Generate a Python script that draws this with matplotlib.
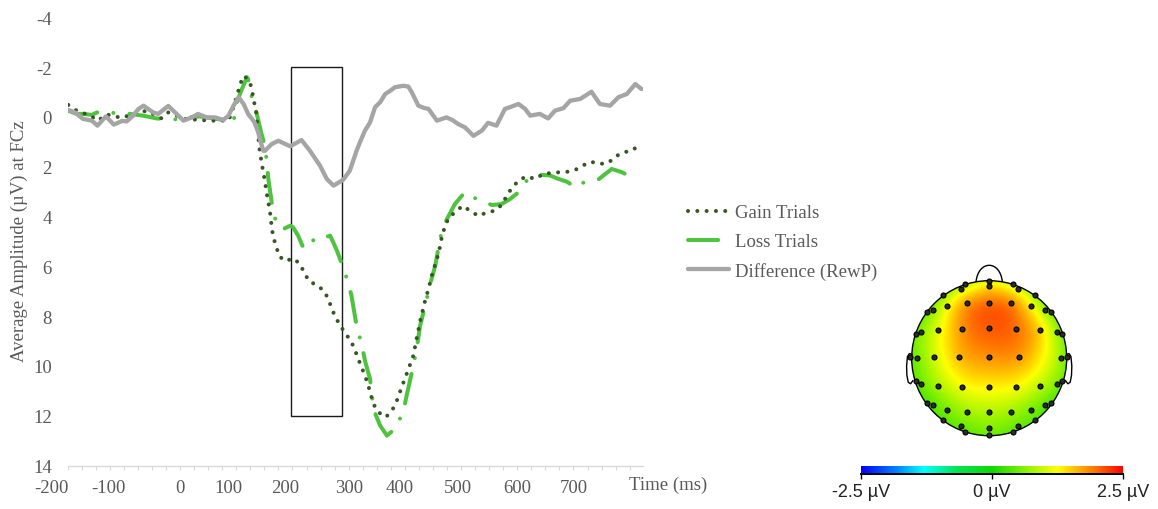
import numpy as np
import matplotlib
matplotlib.use("Agg")
import matplotlib.pyplot as plt
import matplotlib.transforms as mtransforms
from matplotlib.colors import LinearSegmentedColormap, Normalize
from matplotlib.cm import ScalarMappable
from matplotlib.lines import Line2D
from matplotlib.patches import Rectangle, Circle, PathPatch
from matplotlib.path import Path
from matplotlib.ticker import MultipleLocator

plt.rcParams['font.family'] = ['Liberation Serif', 'DejaVu Serif']

# ---- ERP data (time in ms, amplitude in uV) ----
gain_t = [-199, -184, -160, -146, -131, -104, -83, -59, -33, -21, 9, 53, 86, 92, 101,
          107, 113, 121, 127, 130, 133, 136, 139, 142, 145, 148, 151, 154, 157, 160,
          163, 166, 172, 175, 187, 202, 214, 221, 230, 244, 257, 264, 270, 276, 285,
          294, 304, 311, 317, 323, 329, 335, 344, 353, 366, 377, 385, 391, 397, 403,
          409, 415, 421, 428, 436, 442, 449, 457, 463, 466, 471, 477, 489, 503, 516,
          531, 546, 560, 574, 581, 590, 602, 616, 632, 646, 661, 676, 691, 703, 716,
          731, 746, 762, 774, 789, 804, 817]
gain_v = [-0.48, -0.25, -0.05, 0.15, -0.10, 0.04, -0.12, -0.25, 0.06, -0.18, 0.08, 0.15, 0.15, -0.18, -0.84,
          -1.32, -1.65, -1.52, -1.20, -0.79, -0.45, -0.12, 0.77, 1.42, 1.82, 2.22, 2.59, 3.06, 3.43, 3.82,
          4.42, 4.86, 5.24, 5.57, 5.79, 5.68, 5.93, 6.27, 6.61, 6.76, 7.01, 7.34, 7.70, 8.03, 8.38,
          8.69, 9.00, 9.35, 9.72, 10.06, 10.39, 10.80, 11.53, 11.86, 12.06, 11.80, 11.44, 11.06, 10.69, 10.33,
          9.96, 9.59, 8.89, 8.12, 7.38, 6.91, 6.28, 5.71, 5.17, 4.77, 4.43, 4.10, 3.82, 3.57, 3.77,
          3.98, 3.83, 3.77, 3.50, 3.16, 2.87, 2.56, 2.39, 2.49, 2.29, 2.25, 2.22, 2.20, 2.13, 1.96,
          1.80, 1.89, 1.85, 1.60, 1.42, 1.36, 1.12]

loss_t = [-199, -184, -172, -157, -148, -119, -89, -66, -42, -12, 12, 35, 65, 95, 101,
          110, 119, 121, 127, 136, 145, 151, 154, 157, 163, 172, 184, 196, 201, 210,
          219, 231, 243, 254, 267, 273, 279, 288, 297, 305, 314, 323, 329, 338, 344,
          356, 368, 382, 397, 403, 415, 421, 427, 436, 445, 454, 463, 474, 489, 504,
          513, 522, 528, 555, 572, 587, 602, 614, 629, 643, 658, 673, 688, 697, 709,
          718, 744, 768, 786, 804, 815]
loss_v = [-0.25, -0.12, -0.12, -0.08, -0.18, -0.16, -0.12, -0.05, 0.06, 0.11, 0.02, -0.02, 0.08, 0.19, -0.59,
          -1.12, -1.59, -1.52, -0.85, -0.16, 0.69, 1.16, 1.77, 2.49, 3.43, 4.37, 4.50, 4.37, 4.43, 4.77,
          5.24, 4.90, 5.01, 4.86, 4.77, 5.06, 5.37, 5.91, 6.51, 7.18, 8.39, 9.12, 9.79, 10.53, 11.73,
          12.40, 12.80, 12.53, 11.86, 11.20, 9.99, 9.32, 8.39, 7.58, 6.71, 5.98, 4.84, 4.14, 3.50, 3.10,
          3.03, 3.23, 3.30, 3.54, 3.50, 3.30, 3.03, 2.60, 2.43, 2.33, 2.35, 2.49, 2.60, 2.73, 2.83,
          2.63, 2.52, 2.09, 2.22, 2.43, 2.36]

diff_t = [-199, -187, -173, -157, -147, -132, -118, -103, -95, -84, -74, -65, -57, -48, -39,
          -21, -9, 6, 21, 32, 47, 62, 77, 86, 95, 104, 113, 121, 132, 139,
          142, 148, 151, 163, 175, 196, 216, 231, 249, 261, 273, 290, 302, 314, 320,
          329, 338, 347, 356, 365, 374, 382, 397, 406, 412, 424, 434, 442, 457, 474,
          484, 495, 507, 522, 537, 548, 563, 578, 587, 602, 614, 623, 640, 655, 667,
          682, 694, 712, 732, 747, 765, 780, 795, 810, 821]
diff_v = [-0.28, -0.18, 0.08, 0.15, 0.35, -0.02, 0.31, 0.16, 0.18, -0.04, -0.32, -0.45, -0.32, -0.18, -0.12,
          -0.44, -0.18, 0.15, 0.02, -0.12, 0.02, 0.02, 0.12, -0.05, -0.45, -0.79, -0.52, -0.12, 0.20, 0.61,
          0.89, 1.36, 1.36, 1.09, 0.96, 1.18, 0.93, 1.36, 1.96, 2.49, 2.76, 2.53, 2.16, 1.36, 1.02,
          0.55, 0.22, -0.39, -0.59, -0.92, -1.05, -1.19, -1.25, -1.22, -1.00, -0.45, -0.36, -0.32, 0.15, 0.02,
          0.12, 0.29, 0.42, 0.76, 0.55, 0.24, 0.35, -0.32, -0.39, -0.52, -0.32, -0.05, -0.12, 0.06, -0.25,
          -0.35, -0.65, -0.72, -1.01, -0.52, -0.45, -0.79, -0.92, -1.32, -1.12]

labels = ['Gain Trials', 'Loss Trials', 'Difference (RewP)']
window_t = [198, 288]     # measurement window (ms)
window_v = [-2, 12]
x_ticks = [-200, -100, 0, 100, 200, 300, 400, 500, 600, 700]
y_ticks = [-4, -2, 0, 2, 4, 6, 8, 10, 12, 14]

# ---- topography: electrode positions (head radius = 1) and RewP amplitude ----
elec_x = [0.00, 0.00, -0.31, -0.37, 0.31, 0.37,
          -0.59, 0.59,
          -0.55, -0.29, 0.00, 0.28, 0.54,
          -0.80, -0.73, 0.72, 0.80,
          -0.95, -0.88, -0.66, -0.35, 0.00, 0.34, 0.66, 0.87, 0.94,
          -1.02, -0.93, -0.71, -0.39, 0.00, 0.39, 0.93, 1.01,
          -0.95, -0.88, -0.66, -0.35, 0.00, 0.34, 0.66, 0.87, 0.94,
          -0.80, -0.73, -0.55, -0.29, 0.00, 0.28, 0.54, 0.72, 0.80,
          -0.59, 0.59,
          -0.37, -0.31, 0.00, 0.00, 0.31, 0.37]
elec_y = [1.00, 0.93, 0.96, 0.89, 0.96, 0.89,
          0.82, 0.82,
          0.68, 0.71, 0.71, 0.71, 0.68,
          0.59, 0.62, 0.62, 0.59,
          0.31, 0.34, 0.37, 0.38, 0.39, 0.38, 0.37, 0.34, 0.31,
          0.01, 0.00, 0.01, 0.01, 0.01, 0.01, 0.00, 0.01,
          -0.30, -0.33, -0.36, -0.37, -0.37, -0.37, -0.36, -0.33, -0.30,
          -0.58, -0.61, -0.67, -0.70, -0.70, -0.70, -0.67, -0.61, -0.58,
          -0.80, -0.80,
          -0.87, -0.95, -0.90, -0.99, -0.95, -0.87]
elec_v = [1.0, 1.4, 0.8, 1.0, 0.9, 1.1,
          0.65, 0.7,
          1.15, 1.75, 1.95, 1.85, 1.25,
          0.55, 0.65, 0.7, 0.6,
          0.55, 0.65, 1.1, 1.8, 2.05, 1.95, 1.45, 0.7, 0.6,
          0.45, 0.55, 1.0, 1.6, 1.8, 1.75, 0.7, 0.5,
          0.4, 0.5, 0.8, 1.2, 1.3, 1.25, 0.9, 0.6, 0.5,
          0.35, 0.4, 0.55, 0.75, 0.85, 0.75, 0.55, 0.45, 0.35,
          0.4, 0.4,
          0.5, 0.4, 0.6, 0.5, 0.4, 0.5]
cbar_ticks = [-2.5, 0, 2.5]
cbar_labels = ['-2.5 µV', '0 µV', '2.5 µV']

W, H = 1158, 510
TXT = '#595959'
GAIN_C, LOSS_C, DIFF_C = '#375623', '#4fc33f', '#a5a5a5'


def px_box(l, t, r, b):
    return [l / W, 1 - b / H, (r - l) / W, (b - t) / H]


fig = plt.figure(figsize=(W / 100, H / 100), dpi=100)

# ================= waveform panel =================
ax = fig.add_axes(px_box(67.7, 18.3, 643, 466.5))
ax.plot(loss_t, loss_v, color=LOSS_C, lw=2.9, linestyle=(0, (7.5, 4, 0.01, 4)),
        dash_capstyle='round', solid_capstyle='round')
ax.plot(gain_t, gain_v, color=GAIN_C, lw=2.9, linestyle=(0, (0.01, 2.3)),
        dash_capstyle='round')
ax.plot(diff_t, diff_v, color=DIFF_C, lw=3.1, solid_capstyle='round', solid_joinstyle='round')
ax.add_patch(Rectangle((window_t[0], window_v[0]), window_t[1] - window_t[0],
                       window_v[1] - window_v[0], fill=False, ec='#1a1a1a', lw=1.0))

ax.set_xlim(-200, 823.7)
ax.set_ylim(14, -4)
for s in ['left', 'right', 'top']:
    ax.spines[s].set_visible(False)
ax.spines['bottom'].set_color('#d9d9d9')
ax.spines['bottom'].set_linewidth(1.0)

ax.set_xticks(x_ticks)
ax.set_xticklabels([str(v) for v in x_ticks])
ax.xaxis.set_minor_locator(MultipleLocator(25))
ax.tick_params(axis='x', which='both', direction='out', length=3, width=0.8,
               color='#d9d9d9', labelcolor=TXT, labelsize=13.5, pad=7)
ax.set_yticks(y_ticks)
ax.set_yticklabels([str(v) for v in y_ticks])
ax.tick_params(axis='y', length=0, labelcolor=TXT, labelsize=13.5, pad=11.5)

# the original tick labels sit a little left of their ticks
label_shift_px = [-16, -15, 0, -8, -7.5, 0, -5, -3, 0, 0]
for lab, dx in zip(ax.get_xticklabels(), label_shift_px):
    lab.set_transform(lab.get_transform() +
                      mtransforms.ScaledTranslation(dx / 100, 0, fig.dpi_scale_trans))

fig.text(668 / W, 1 - 485 / H, 'Time (ms)', ha='center', va='center', color=TXT, fontsize=13.5)
fig.text(19 / W, 1 - 241 / H, 'Average Amplitude (µV) at FCz', rotation=90,
         ha='center', va='center', color=TXT, fontsize=13.5)

handles = [Line2D([], [], color=GAIN_C, lw=2.9, linestyle=(0, (0.01, 2.3)), dash_capstyle='round'),
           Line2D([], [], color=LOSS_C, lw=2.9, linestyle=(0, (7.5, 20)), dash_capstyle='round'),
           Line2D([], [], color=DIFF_C, lw=3.1, solid_capstyle='round')]
leg = fig.legend(handles, labels, loc='upper left', bbox_to_anchor=(688 / W, 1 - 205 / H),
                 frameon=False, borderpad=0, borderaxespad=0, fontsize=13.5,
                 handlelength=2.2, handletextpad=0.3, labelspacing=0.63)
for t in leg.get_texts():
    t.set_color(TXT)

# ================= topography =================
cmap = LinearSegmentedColormap.from_list('rewp', [
    (0.0, (0.0, 0.0, 1.0)), (0.12, (0.0, 0.45, 1.0)), (0.24, (0.0, 1.0, 1.0)),
    (0.36, (0.0, 0.9, 0.35)), (0.5, (0.05, 0.85, 0.0)), (0.63, (0.55, 0.95, 0.0)),
    (0.75, (1.0, 1.0, 0.0)), (0.87, (1.0, 0.55, 0.0)), (1.0, (1.0, 0.0, 0.0))])
norm = Normalize(-2.5, 2.5)

cx, cy, r = 989.2, 359.2, 77.5
ax_t = fig.add_axes(px_box(900, 255, 1080, 445))
ax_t.set_xlim((900 - cx) / r, (1080 - cx) / r)
ax_t.set_ylim((cy - 445) / r, (cy - 255) / r)
ax_t.axis('off')

# thin-plate spline through electrode values
ex, ey, ev = np.array(elec_x), np.array(elec_y), np.array(elec_v)
n = len(ex)
d = np.hypot(ex[:, None] - ex[None, :], ey[:, None] - ey[None, :])
with np.errstate(divide='ignore', invalid='ignore'):
    K = np.where(d > 0, d ** 2 * np.log(d), 0.0)
A = np.zeros((n + 3, n + 3))
A[:n, :n] = K + 0.02 * np.eye(n)
A[:n, n], A[:n, n + 1], A[:n, n + 2] = 1, ex, ey
A[n, :n], A[n + 1, :n], A[n + 2, :n] = 1, ex, ey
sol = np.linalg.solve(A, np.concatenate([ev, np.zeros(3)]))
g = np.linspace(-1.02, 1.02, 241)
GX, GY = np.meshgrid(g, g)
dg = np.hypot(GX[..., None] - ex, GY[..., None] - ey)
with np.errstate(divide='ignore', invalid='ignore'):
    Kg = np.where(dg > 0, dg ** 2 * np.log(dg), 0.0)
Z = Kg @ sol[:n] + sol[n] + sol[n + 1] * GX + sol[n + 2] * GY

im = ax_t.imshow(Z, extent=(-1.02, 1.02, -1.02, 1.02), origin='lower', cmap=cmap, norm=norm,
                 interpolation='bilinear')
im.set_clip_path(Circle((0, 0), 1.0, transform=ax_t.transData))
ax_t.add_patch(Circle((0, 0), 1.0, fill=False, ec='black', lw=1.0))
nose = Path([(-0.17, 0.985), (-0.14, 1.27), (0.14, 1.27), (0.17, 0.985)],
            [Path.MOVETO, Path.CURVE4, Path.CURVE4, Path.CURVE4])
ax_t.add_patch(PathPatch(nose, fill=False, ec='black', lw=1.0))
ear_x = np.array([-0.995, -1.03, -1.055, -1.066, -1.062, -1.045, -1.015, -0.985])
ear_y = np.array([0.05, 0.06, 0.02, -0.1, -0.22, -0.31, -0.33, -0.29])
ax_t.plot(ear_x, ear_y, color='black', lw=1.0)
ax_t.plot(-ear_x, ear_y, color='black', lw=1.0)
ax_t.plot(elec_x, elec_y, 'o', ms=3.6, mfc='#2a2a2a', mec='black', mew=0.8)

# colorbar
cax = fig.add_axes(px_box(860.7, 466.7, 1123.3, 474.5))
cb = fig.colorbar(ScalarMappable(norm=norm, cmap=cmap), cax=cax, orientation='horizontal',
                  ticks=cbar_ticks)
cb.outline.set_visible(False)
cb.set_ticklabels(cbar_labels)
cax.plot([0, 1], [0, 0], transform=cax.transAxes, color='black', lw=1.4, clip_on=False)
cax.tick_params(length=3.6, width=1.0, color='black', labelsize=13, labelcolor='#222222', pad=3)
for t in cax.get_xticklabels():
    t.set_family('Liberation Sans')

fig.savefig('out.png', dpi=100)
